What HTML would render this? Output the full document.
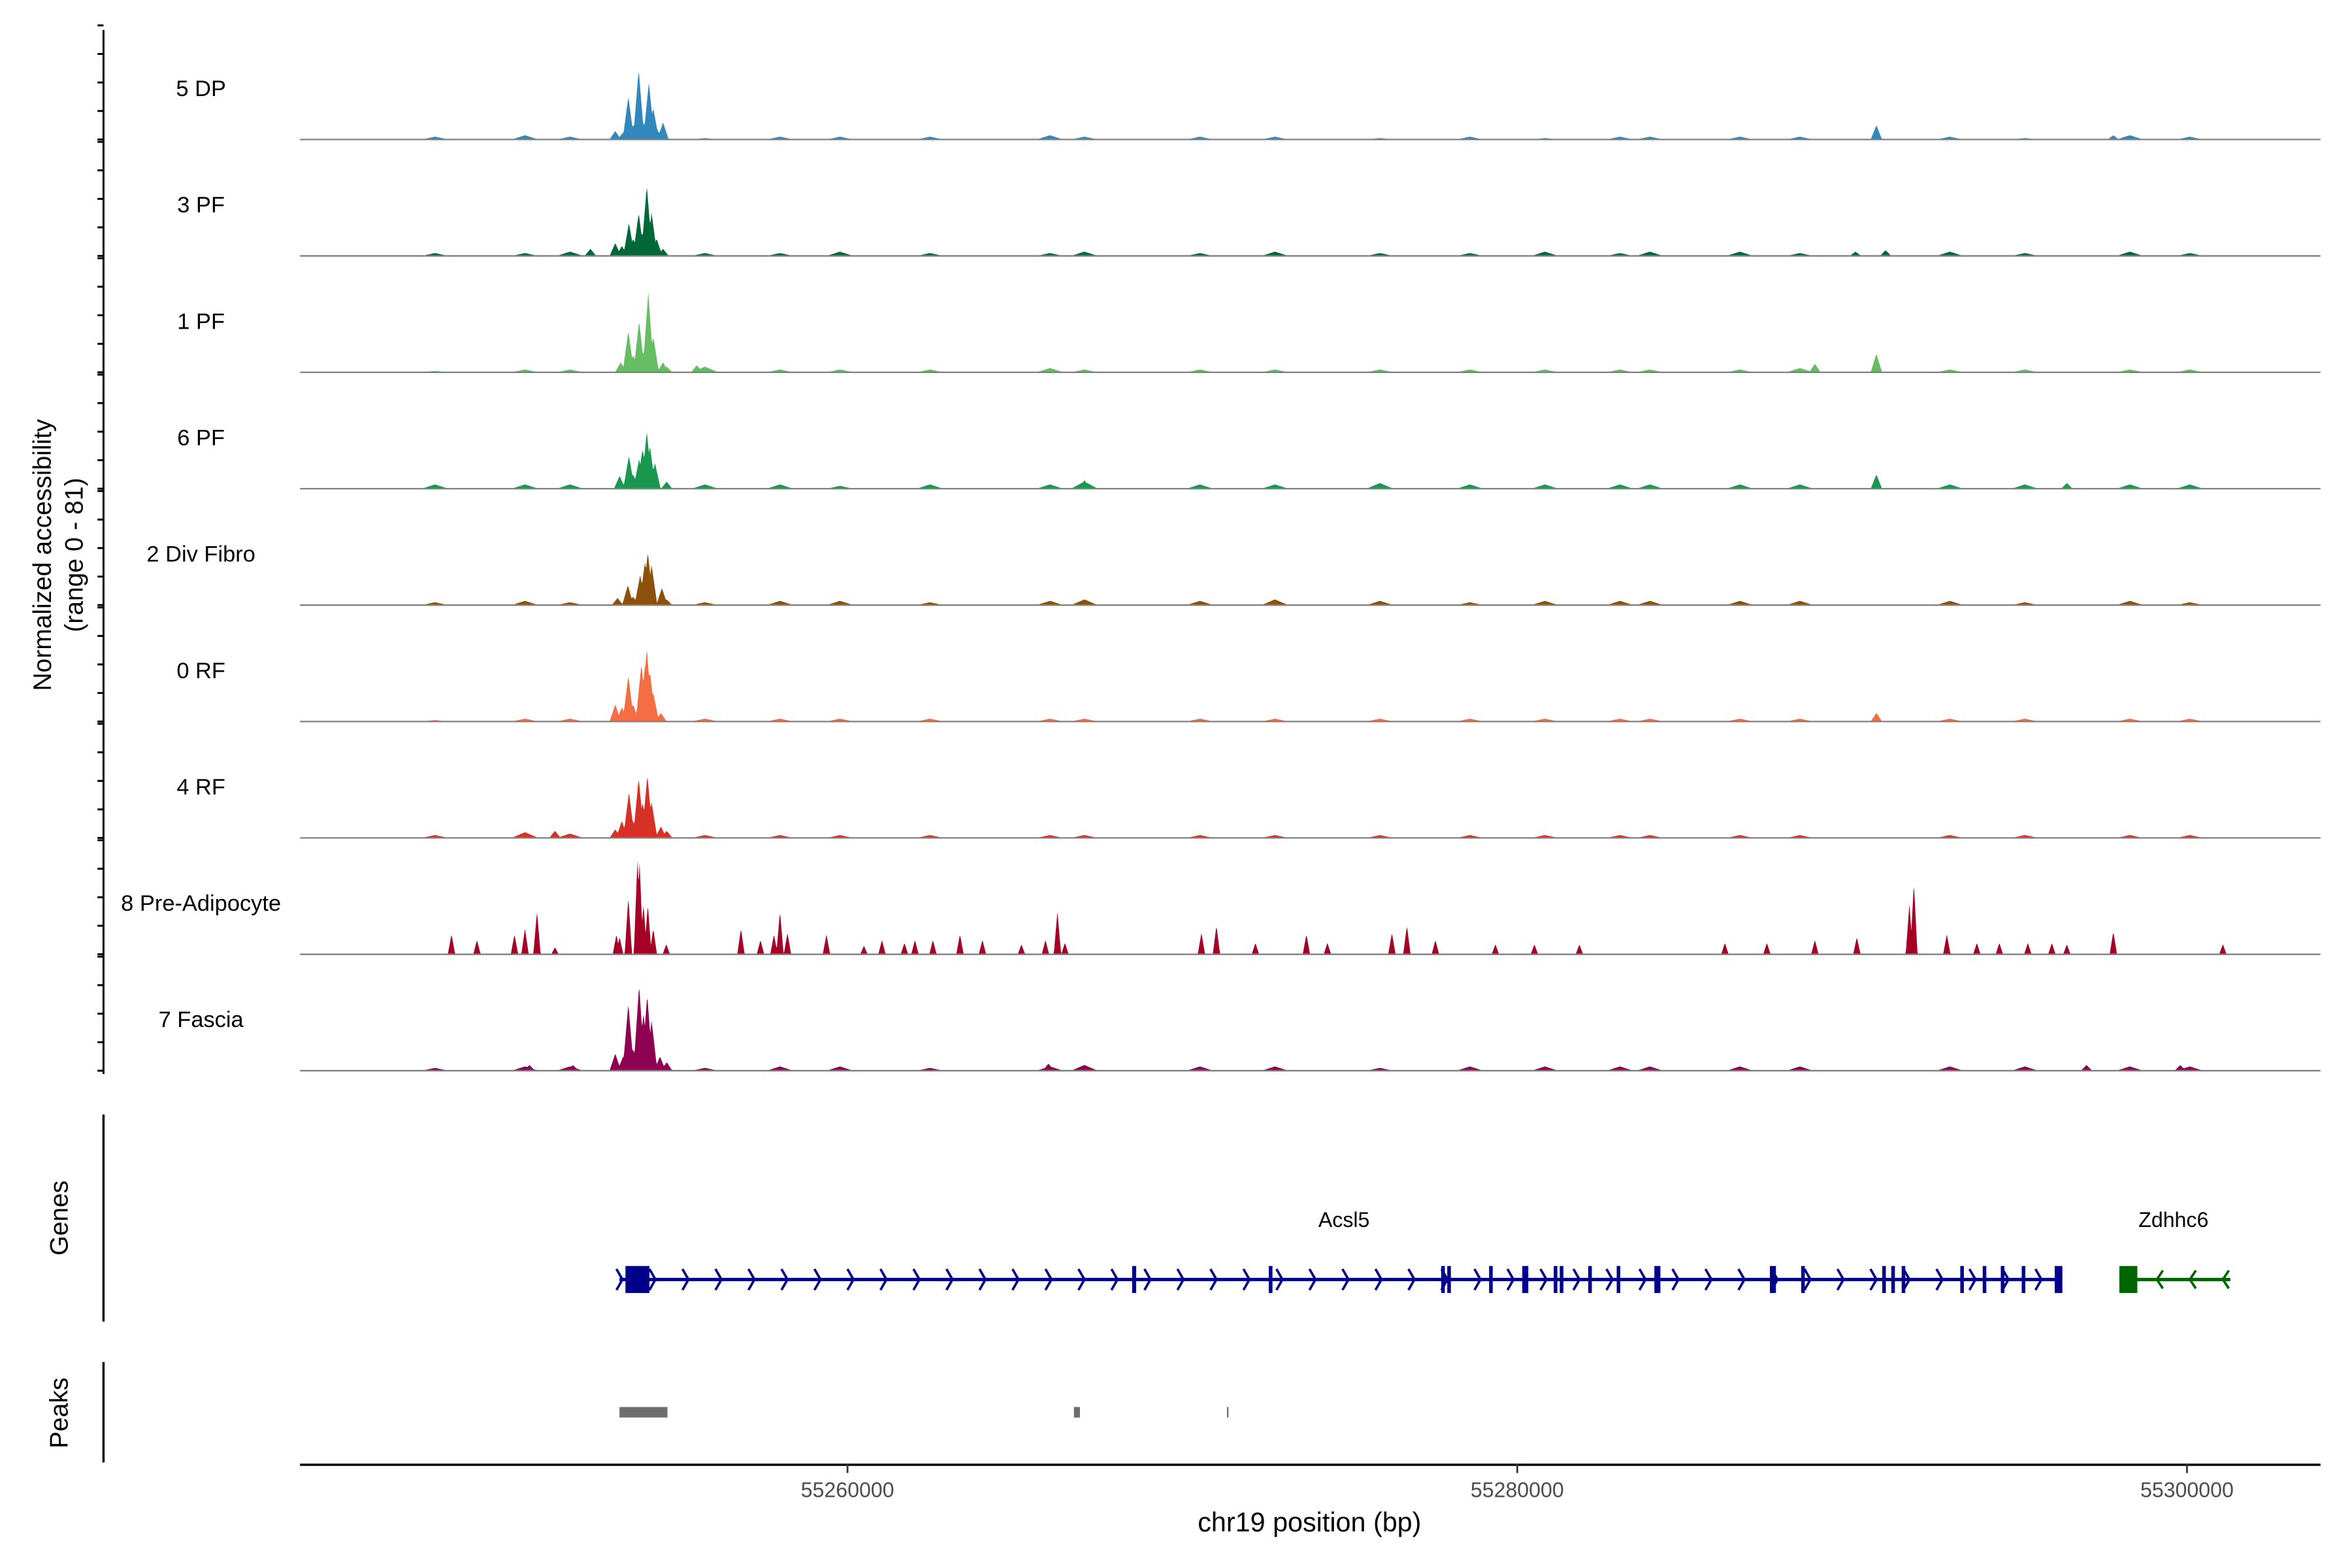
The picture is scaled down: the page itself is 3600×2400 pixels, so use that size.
<!DOCTYPE html>
<html><head><meta charset="utf-8">
<style>
html,body{margin:0;padding:0;background:#fff;}
svg{display:block;font-family:"Liberation Sans",Arial,sans-serif;}
</style></head>
<body>
<svg id="chart" width="3600" height="2400" viewBox="0 0 1568 1045.33" preserveAspectRatio="none" xmlns="http://www.w3.org/2000/svg">
<rect x="0" y="0" width="1568" height="1046" fill="#fff"/>
<g id="tracks"></g>
<g id="leftaxis"></g>
<text transform="translate(34,370) rotate(-90)" text-anchor="middle" font-size="17" fill="#000">Normalized accessibility</text>
<text transform="translate(55,370) rotate(-90)" text-anchor="middle" font-size="17" fill="#000">(range 0 - 81)</text>
<line x1="69" y1="743" x2="69" y2="881" stroke="#000" stroke-width="1.5"/>
<text transform="translate(45,812) rotate(-90)" text-anchor="middle" font-size="17">Genes</text>
<line x1="69" y1="908" x2="69" y2="975" stroke="#000" stroke-width="1.5"/>
<text transform="translate(45,942) rotate(-90)" text-anchor="middle" font-size="17">Peaks</text>
<g id="genes"></g>
<g id="peaks"></g>
<g id="xaxis"></g>
<text x="873" y="1021" text-anchor="middle" font-size="18">chr19 position (bp)</text>
</svg>
<script>
const NS="http://www.w3.org/2000/svg";
const trackNames=["5 DP","3 PF","1 PF","6 PF","2 Div Fibro","0 RF","4 RF","8 Pre-Adipocyte","7 Fascia"];
const trackColors=["#3288BD","#006837","#66BD63","#1A9850","#8C510A","#F46D43","#D73027","#A50026","#8E0152"];
const xTickVals=[55260000,55280000,55300000];
const yMaxValue=81;

const dp5Pos=[55253065,55253300,55253455,55253600,55253764,55253900,55254068,55254200,55254300,55254490,55290725,55297800];
const dp5Val=[6,5,30,10,49,12,40,22,8,12,10,3];
const pf3Pos=[55252322,55253065,55253262,55253473,55253600,55253764,55253880,55254006,55254150,55254300,55254490,55291000,55290100];
const pf3Val=[5,9,7,23,12,30,16,49,30,12,5,4,3];
const pf1Pos=[55253227,55253455,55253600,55253777,55253900,55254050,55254200,55254490,55254600,55255500,55288888,55290725];
const pf1Val=[7,29,12,36,14,56,25,7,4,5,6,13];
const pf6Pos=[55253195,55253473,55253600,55253777,55253880,55254006,55254100,55254250,55254600,55267075,55290725,55296413];
const pf6Val=[9,23,10,21,28,40,30,18,5,6,10,4];
const div2Pos=[55253132,55253441,55253600,55253809,55253950,55254037,55254150,55254458,55254600];
const div2Val=[5,14,6,21,30,37,28,12,4];
const rf0Pos=[55253065,55253262,55253455,55253600,55253845,55253950,55254006,55254100,55254200,55254427,55290725];
const rf0Val=[12,10,32,12,40,38,51,35,20,6,6];
const rf4Pos=[55251264,55253065,55253262,55253473,55253600,55253764,55253880,55254024,55254150,55254427,55254600];
const rf4Val=[5,6,12,32,12,42,25,44,25,8,5];
const pre8Pos=[55248174,55248935,55250055,55250369,55250727,55251264,55253100,55253195,55253455,55253728,55253791,55253907,55254037,55254200,55254588,55256818,55257401,55257804,55257983,55258207,55259371,55260491,55261029,55261700,55262014,55262551,55263358,55264029,55265194,55265911,55266269,55266493,55270569,55271017,55272181,55273704,55274331,55276257,55276705,55277556,55279348,55280512,55281856,55286201,55287455,55288888,55290142,55291710,55291844,55292829,55293725,55294397,55295248,55295965,55296413,55297801,55301071];
const pre8Val=[14,10,14,18,30,5,14,12,40,67,65,35,35,18,7,18,10,14,30,15,14,6,10,8,10,10,14,10,7,10,30,8,15,20,8,14,8,15,20,10,7,7,7,8,8,10,12,35,50,14,8,8,8,8,7,16,7];
const fas7Pos=[55250500,55251800,55253065,55253300,55253455,55253600,55253777,55253907,55254019,55254150,55254400,55254600,55266000,55297000,55299800];
const fas7Val=[4,4,12,10,47,15,60,40,53,35,10,6,5,4,4];

const bgPos=[55247681,55250369,55251712,55255743,55257983,55259774,55262462,55266045,55267075,55270524,55272764,55275899,55278586,55280826,55283065,55283961,55286648,55288440,55292919,55295159,55298294,55300085];
const dp5Bg=[2,3,2,1,2,2,2,3,2,2,2,1,2,1,2,2,2,2,2,1,3,2];
const pf3Bg=[2,2,3,2,2,3,2,2,3,2,3,2,2,3,2,3,3,2,3,2,3,2];
const pf1Bg=[1,2,2,4,2,2,2,3,2,2,2,2,2,2,2,2,2,3,2,2,2,2];
const pf6Bg=[3,3,3,3,3,2,3,3,5,3,3,4,3,3,3,3,3,3,3,3,3,3];
const div2Bg=[2,3,2,2,3,3,2,3,4,3,4,3,2,3,3,3,3,3,3,2,3,2];
const rf0Bg=[1,2,2,2,2,2,2,2,2,2,2,2,2,2,2,2,2,2,2,2,2,2];
const rf4Bg=[2,4,3,2,2,2,2,2,2,2,2,2,2,2,2,2,2,2,2,2,2,2];
const pre8Bg=[0,0,0,0,0,0,0,0,0,0,0,0,0,0,0,0,0,0,0,0,0,0];
const fas7Bg=[2,3,3,2,3,3,2,3,4,3,3,2,3,3,3,3,3,3,3,3,3,3];

const trackPos=[dp5Pos,pf3Pos,pf1Pos,pf6Pos,div2Pos,rf0Pos,rf4Pos,pre8Pos,fas7Pos];
const trackVal=[dp5Val,pf3Val,pf1Val,pf6Val,div2Val,rf0Val,rf4Val,pre8Val,fas7Val];
const trackBg=[dp5Bg,pf3Bg,pf1Bg,pf6Bg,div2Bg,rf0Bg,rf4Bg,pre8Bg,fas7Bg];

const geneLine=[55253190,55296278];
const exonStart=[55253369,55268500,55272580,55277730,55277910,55279160,55280150,55281090,55281270,55282120,55282970,55284095,55287545,55288480,55290900,55291170,55291480,55293230,55293900,55294440,55295065,55296050];
const exonEnd=[55254086,55268620,55272690,55277830,55278010,55279260,55280330,55281190,55281370,55282220,55283070,55284275,55287725,55288580,55291000,55291270,55291580,55293330,55294000,55294540,55295165,55296278];
const gene2Line=[55297980,55301295];
const gene2Exon=[55297980,55298517];
const peakStart=[55253190,55266762,55271331];
const peakEnd=[55254623,55266941,55271376];

const X0=200,X1=1547,BP0=55243650,BP1=55303987;
function xs(bp){return X0+(bp-BP0)/(BP1-BP0)*(X1-X0);}
const baseY0=93, trackH=77.6, pxMax=77;
function ys(base,v){return base-v/yMaxValue*pxMax;}

const tracks=document.getElementById('tracks');
for(let t=0;t<trackNames.length;t++){
  const base=baseY0+t*trackH;
  const g=document.createElementNS(NS,'g');
  
  
  const pos=trackPos[t],val=trackVal[t],bg=trackBg[t];
  const hw=(t===7)?110:170;
  let d='M'+X0+','+base;
  for(let bp=BP0;bp<=BP1;bp+=20){
    let v=0;
    for(let i=0;i<pos.length;i++){const k=1-Math.abs(bp-pos[i])/hw;if(k>0)v=Math.max(v,val[i]*k);}
    for(let i=0;i<bgPos.length;i++){const k=1-Math.abs(bp-bgPos[i])/400;if(k>0)v=Math.max(v,bg[i]*k);}
    d+=' L'+xs(bp).toFixed(2)+','+ys(base,v).toFixed(2);
  }
  d+=' L'+X1+','+base+' Z';
  const p=document.createElementNS(NS,'path');
  p.setAttribute('d',d);p.setAttribute('fill',trackColors[t]);
  
  
  g.appendChild(p);
  const ln=document.createElementNS(NS,'line');
  ln.setAttribute('x1',X0);ln.setAttribute('x2',X1);ln.setAttribute('y1',base);ln.setAttribute('y2',base);
  ln.setAttribute('stroke','#808080');ln.setAttribute('stroke-width','1');
  
  
  g.appendChild(ln);
  const tx=document.createElementNS(NS,'text');
  tx.setAttribute('x',134);tx.setAttribute('y',base-29);tx.setAttribute('text-anchor','middle');tx.setAttribute('font-size','15');
  tx.textContent=trackNames[t];
  
  
  g.appendChild(tx);
  tracks.appendChild(g);
}
const la=document.getElementById('leftaxis');
let ad='M69,20 L69,716';
for(let t=0;t<trackNames.length;t++){
  const base=baseY0+t*trackH;
  for(let v=0;v<=80;v+=20){const y=ys(base,v);ad+=' M65,'+y.toFixed(2)+' L69,'+y.toFixed(2);}
}
const ap=document.createElementNS(NS,'path');
ap.setAttribute('d',ad);ap.setAttribute('stroke','#000');ap.setAttribute('stroke-width','1.3');ap.setAttribute('fill','none');


la.appendChild(ap);

const gg=document.getElementById('genes');
function add(parent,tag,attrs,name){const e=document.createElementNS(NS,tag);for(const k in attrs)e.setAttribute(k,attrs[k]);parent.appendChild(e);return e;}
const GY=853;
add(gg,'line',{x1:xs(geneLine[0]),x2:xs(geneLine[1]),y1:GY,y2:GY,stroke:'#00008B','stroke-width':2.2},'acsl5-line');
let ch='';
for(let x=xs(geneLine[0]);x<xs(geneLine[1]);x+=22){ch+='M'+(x-2)+','+(GY-7)+' L'+(x+2)+','+GY+' L'+(x-2)+','+(GY+7)+' ';}
add(gg,'path',{d:ch,stroke:'#00008B','stroke-width':1.6,fill:'none'},'acsl5-strand-arrows');
for(let i=0;i<exonStart.length;i++){
  const x0=xs(exonStart[i]),x1=xs(exonEnd[i]);
  add(gg,'rect',{x:x0,y:GY-9,width:Math.max(2.4,x1-x0),height:18,fill:'#00008B'},'acsl5-exon');
}
add(gg,'text',{x:896,y:818,'text-anchor':'middle','font-size':14},'acsl5-label').textContent='Acsl5';
add(gg,'line',{x1:xs(gene2Line[0]),x2:xs(gene2Line[1]),y1:GY,y2:GY,stroke:'#006400','stroke-width':2.2},'zdhhc6-line');
let ch2='';
for(let x=xs(gene2Line[1])-3;x>xs(gene2Exon[1]);x-=22){ch2+='M'+(x+2)+','+(GY-6)+' L'+(x-2)+','+GY+' L'+(x+2)+','+(GY+6)+' ';}
add(gg,'path',{d:ch2,stroke:'#006400','stroke-width':1.6,fill:'none'},'zdhhc6-strand-arrows');
add(gg,'rect',{x:xs(gene2Exon[0]),y:GY-9,width:xs(gene2Exon[1])-xs(gene2Exon[0]),height:18,fill:'#006400'},'zdhhc6-exon');
add(gg,'text',{x:1449,y:818,'text-anchor':'middle','font-size':14},'zdhhc6-label').textContent='Zdhhc6';

const pg=document.getElementById('peaks');
for(let i=0;i<peakStart.length;i++){
  const x0=xs(peakStart[i]),x1=xs(peakEnd[i]);
  add(pg,'rect',{x:x0,y:938,width:Math.max(1,x1-x0),height:7,fill:'#6e6e6e'},'peak-region');
}
const xg=document.getElementById('xaxis');
add(xg,'line',{x1:X0,x2:X1,y1:976.5,y2:976.5,stroke:'#000','stroke-width':1.5},'x-axis-line');
for(const v of xTickVals){
  const x=xs(v);
  add(xg,'line',{x1:x,x2:x,y1:976,y2:982,stroke:'#333','stroke-width':1.2},'x-tick');
  add(xg,'text',{x:x,y:998,'text-anchor':'middle','font-size':14,fill:'#4d4d4d'},'x-tick-label').textContent=String(v);
}
</script>
</body></html>
